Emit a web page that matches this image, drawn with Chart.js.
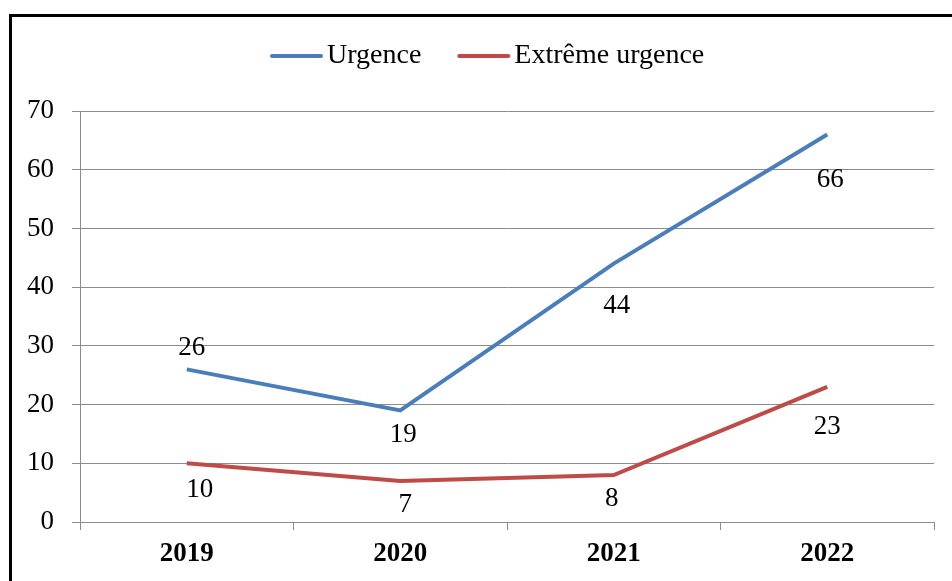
<!DOCTYPE html>
<html>
<head>
<meta charset="utf-8">
<script src="https://cdn.jsdelivr.net/npm/chart.js@4.4.1/dist/chart.umd.min.js"></script>
<style>
    body { margin: 0; background: #fff; overflow: hidden; }
    #frame { position: absolute; left: 9px; top: 14px; width: 1000px; height: 700px; border: 3px solid #000; }
    #wrap { position: absolute; left: 0; top: 0; width: 952px; height: 581px; }
</style>
</head>
<body>
<div id="frame"></div>
<div id="wrap"><canvas id="lineChart"></canvas></div>
<script>
const years = ['2019', '2020', '2021', '2022'];
const urgence = [26, 19, 44, 66];
const extremeUrgence = [10, 7, 8, 23];
const yTicks = [0, 10, 20, 30, 40, 50, 60, 70];

// label offsets from the point (px), one per point
const labelOffsets = [
    [[5, -21], [3, 24], [3, 42], [3, 45]],
    [[13, 27], [5, 24], [-2, 24], [0, 40]]
];

const gridColor = '#8c8c8c';
const serif = "'Liberation Serif', 'Times New Roman', serif";

// draws values next to each point
const valueLabels = {
    id: 'valueLabels',
    afterDatasetsDraw(chart) {
        const ctx = chart.ctx;
        ctx.save();
        ctx.font = '27px ' + serif;
        ctx.fillStyle = '#000';
        ctx.textAlign = 'center';
        ctx.textBaseline = 'middle';
        chart.data.datasets.forEach((ds, i) => {
            chart.getDatasetMeta(i).data.forEach((pt, j) => {
                const off = labelOffsets[i][j];
                ctx.fillText(String(ds.data[j]), pt.x + off[0], pt.y + off[1]);
            });
        });
        ctx.restore();
    }
};

// legend with line samples
const lineLegend = {
    id: 'lineLegend',
    afterDraw(chart) {
        const ctx = chart.ctx;
        ctx.save();
        ctx.font = '28px ' + serif;
        ctx.textBaseline = 'middle';
        const sample = 53, gap = 4, spacing = 36, y = 56;
        let x = 270;
        chart.data.datasets.forEach(ds => {
            const w = ctx.measureText(ds.label).width;
            ctx.strokeStyle = ds.borderColor;
            ctx.lineWidth = 4;
            ctx.lineCap = 'round';
            ctx.beginPath();
            ctx.moveTo(x + 2, y);
            ctx.lineTo(x + sample - 2, y);
            ctx.stroke();
            ctx.fillStyle = '#000';
            ctx.fillText(ds.label, x + sample + gap, y);
            x += sample + gap + w + spacing;
        });
        ctx.restore();
    }
};

new Chart(document.getElementById('lineChart').getContext('2d'), {
    type: 'line',
    data: {
        labels: years,
        datasets: [
            {
                label: 'Urgence',
                data: urgence,
                borderColor: '#4a7ebb',
                backgroundColor: '#4a7ebb',
                borderWidth: 4,
                pointRadius: 0,
                tension: 0
            },
            {
                label: 'Extrême urgence',
                data: extremeUrgence,
                borderColor: '#be4b48',
                backgroundColor: '#be4b48',
                borderWidth: 4,
                pointRadius: 0,
                tension: 0
            }
        ]
    },
    options: {
        responsive: true,
        maintainAspectRatio: false,
        animation: false,
        layout: { padding: { top: 111, right: 18, bottom: 0, left: 0 } },
        plugins: {
            legend: { display: false },
            tooltip: { enabled: false }
        },
        scales: {
            x: {
                offset: true,
                grid: {
                    offset: true,
                    drawOnChartArea: false,
                    drawTicks: true,
                    tickLength: 8,
                    color: gridColor
                },
                border: { color: gridColor },
                ticks: {
                    color: '#000',
                    padding: 8,
                    font: { family: serif, size: 27, weight: 'bold' }
                },
                afterFit(scale) { scale.height = 59; }
            },
            y: {
                min: 0,
                max: 70,
                afterBuildTicks(scale) { scale.ticks = yTicks.map(v => ({ value: v })); },
                grid: { color: gridColor, tickLength: 8 },
                border: { color: gridColor },
                ticks: {
                    color: '#000',
                    padding: 18,
                    font: { family: serif, size: 27 }
                },
                afterFit(scale) { scale.width = 80; }
            }
        }
    },
    plugins: [valueLabels, lineLegend]
});
</script>
</body>
</html>
